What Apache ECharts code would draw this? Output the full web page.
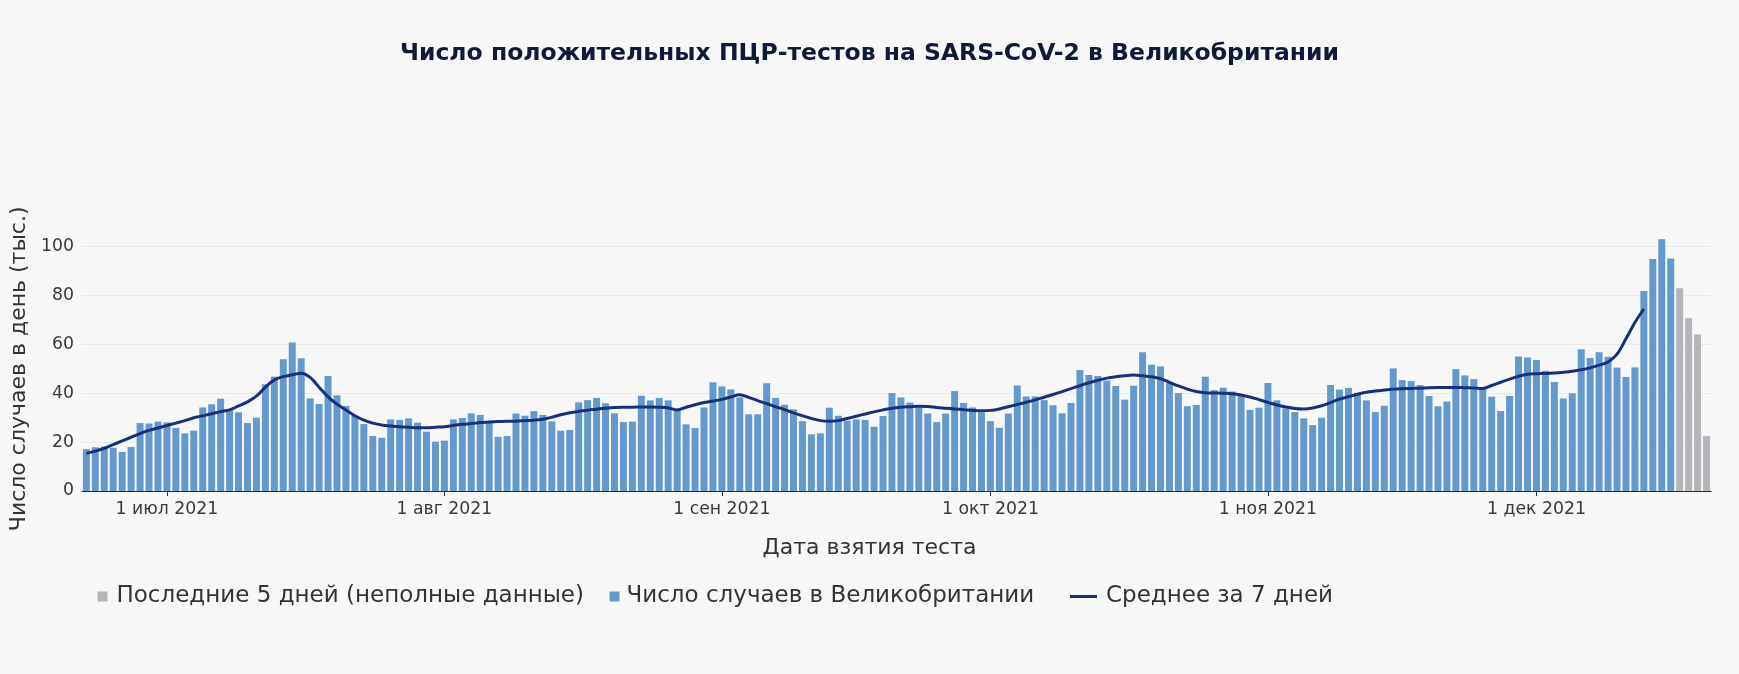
<!DOCTYPE html>
<html>
<head>
<meta charset="utf-8">
<script src="https://cdn.jsdelivr.net/npm/echarts@6/dist/echarts.min.js"></script>
<style>
html,body{margin:0;padding:0;background:#f7f7f7;}
#chart{width:1739px;height:674px;}
</style>
</head>
<body>
<div id="chart"></div>
<script>
// ---- data ----
const startDate = '2021-06-22';
const dayCount = 182;
const monthNames = ['янв','фев','мар','апр','май','июн','июл','авг','сен','окт','ноя','дек'];

// daily positive tests (thousands), 22 Jun – 16 Dec 2021
const casesUK = [
  17.1,17.9,18.1,17.7,16.0,18.0,27.8,27.6,28.4,28.1,25.8,23.6,24.7,34.2,35.5,37.8,33.0,32.2,27.8,30.0,
  43.7,46.8,53.9,60.8,54.3,37.9,35.6,47.1,39.2,34.8,30.7,27.4,22.5,21.8,29.3,29.1,29.7,28.0,24.3,20.2,
  20.6,29.3,29.9,31.8,31.1,28.4,22.2,22.5,31.7,30.8,32.7,31.1,28.5,24.7,25.0,36.3,37.2,38.1,35.9,31.8,
  28.2,28.4,39.0,37.1,38.1,37.1,33.4,27.3,25.8,34.2,44.5,42.8,41.6,38.3,31.4,31.4,44.1,38.1,35.3,33.4,
  28.6,23.2,23.6,34.1,30.8,28.8,29.3,29.1,26.3,30.7,40.1,38.3,36.2,34.3,31.7,28.2,31.7,40.9,36.0,34.2,
  32.2,28.6,25.9,31.7,43.2,38.7,38.7,37.2,35.1,31.8,36.0,49.5,47.5,47.1,45.2,43.0,37.4,43.1,56.8,51.7,
  51.0,44.3,40.1,34.7,35.2,46.8,41.3,42.3,40.7,39.0,33.2,34.1,44.2,37.1,33.8,32.3,29.7,27.0,30.0,43.4,
  41.5,42.2,40.2,37.1,32.3,34.9,50.2,45.4,45.0,43.4,38.9,34.7,36.6,49.9,47.3,45.8,42.0,38.6,32.7,38.9,
  55.1,54.6,53.6,49.2,44.6,37.9,40.0,58.0,54.4,56.8,55.0,50.5,46.7,50.6,81.9,95.0,103.0,95.2
];
// last days, incomplete data (17 – 20 Dec 2021)
const lastDays = [83.0,70.7,64.1,22.5];
// 7-day average, 22 Jun – 13 Dec 2021
const avg7 = [
  15.4,16.3,17.5,19.0,20.5,22.0,23.5,24.8,25.8,26.8,27.8,28.8,30.0,30.8,31.6,32.5,33.2,34.8,36.5,38.8,
  42.5,45.5,46.8,47.6,48.2,46.5,42.5,38.5,35.5,33.2,30.8,29.0,27.8,27.0,26.6,26.3,26.1,25.9,25.9,26.1,
  26.3,26.8,27.3,27.6,28.0,28.2,28.4,28.6,28.6,28.8,29.0,29.4,30.2,31.2,32.0,32.6,33.1,33.5,33.9,34.2,
  34.3,34.3,34.4,34.4,34.3,34.0,33.2,34.3,35.3,36.2,36.8,37.5,38.5,39.4,38.3,37.0,35.8,34.5,33.3,32.0,
  30.8,29.7,28.8,28.5,28.8,29.7,30.6,31.5,32.4,33.2,33.9,34.3,34.5,34.7,34.6,34.2,33.9,33.6,33.3,33.0,
  32.8,33.0,33.6,34.5,35.4,36.3,37.3,38.4,39.5,40.7,41.9,43.1,44.3,45.3,46.2,46.8,47.2,47.5,47.2,46.8,
  46.0,44.5,43.0,41.7,40.7,40.2,40.1,40.0,39.8,39.3,38.5,37.4,36.3,35.2,34.4,33.8,33.6,34.0,34.9,36.2,
  37.6,38.6,39.6,40.4,40.9,41.3,41.7,41.9,42.0,42.1,42.3,42.4,42.4,42.4,42.3,42.2,42.0,43.2,44.5,45.8,
  47.0,47.8,48.0,48.1,48.3,48.6,49.0,49.6,50.4,51.5,52.8,56.0,62.3,69.0,74.5
];

const titleText = 'Число положительных ПЦР-тестов на SARS-CoV-2 в Великобритании';
const xName = 'Дата взятия теста';
const yName = 'Число случаев в день (тыс.)';
const nameLast = 'Последние 5 дней (неполные данные)';
const nameCases = 'Число случаев в Великобритании';
const nameAvg = 'Среднее за 7 дней';

// ---- build ----
const categories = [];
{
  const p = startDate.split('-').map(Number);
  const t0 = Date.UTC(p[0], p[1]-1, p[2]);
  for (let i = 0; i < dayCount; i++) {
    const d = new Date(t0 + i*86400000);
    const mm = String(d.getUTCMonth()+1).padStart(2,'0');
    const dd = String(d.getUTCDate()).padStart(2,'0');
    categories.push(d.getUTCFullYear()+'-'+mm+'-'+dd);
  }
}
const casesData = casesUK.concat(lastDays.map(() => null));
const lastData = casesUK.map(() => null).concat(lastDays);
const avgData = avg7.concat(new Array(dayCount - avg7.length).fill(null));

const FONT = 'DejaVu Sans';
const isFirst = (i, v) => v.slice(8) === '01';

const chart = echarts.init(document.getElementById('chart'), null, {renderer:'canvas'});
chart.setOption({
  backgroundColor: '#f7f7f7',
  animation: false,
  textStyle: {fontFamily: FONT},
  title: [
    {text: titleText, left: 'center', top: 37,
     textStyle: {fontFamily: FONT, fontSize: 23.5, fontWeight: 'bold', color: '#0f1a38'}},
    {text: xName, left: 'center', top: 532,
     textStyle: {fontFamily: FONT, fontSize: 22, fontWeight: 'normal', color: '#333'}}
  ],
  grid: {left: 78, right: 28, top: 246.7, bottom: 183, containLabel: false},
  legend: [
    {data: [nameLast], left: 92.5, top: 580, itemWidth: 10, itemHeight: 10, icon: 'rect',
     textStyle: {fontFamily: FONT, fontSize: 23, color: '#333', padding: [0,0,0,4]}},
    {data: [nameCases], left: 604.5, top: 580, itemWidth: 10, itemHeight: 10, icon: 'rect',
     textStyle: {fontFamily: FONT, fontSize: 23, color: '#333', padding: [0,0,0,2]}},
    {data: [nameAvg], left: 1065, top: 580, itemWidth: 27, itemHeight: 3, icon: 'rect',
     textStyle: {fontFamily: FONT, fontSize: 23, color: '#333', padding: [0,0,0,4]}}
  ],
  xAxis: {
    type: 'category', data: categories, boundaryGap: true,
    axisLine: {show: true, lineStyle: {color: '#1f2d4d', width: 1}},
    axisTick: {show: true, alignWithLabel: true, interval: isFirst, length: 5,
               lineStyle: {color: '#1f2d4d'}},
    axisLabel: {interval: isFirst, margin: 10, color: '#3a3a3a', fontSize: 17.3, fontFamily: FONT,
      formatter: v => {
        const p = v.split('-');
        return Number(p[2]) + ' ' + monthNames[Number(p[1])-1] + ' ' + p[0];
      }},
    splitLine: {show: false}
  },
  yAxis: {
    type: 'value', min: 0, max: 100, interval: 20,
    name: yName, nameLocation: 'middle', nameGap: 50,
    nameTextStyle: {fontFamily: FONT, fontSize: 22, color: '#333'},
    axisLine: {show: false}, axisTick: {show: false},
    axisLabel: {color: '#3a3a3a', fontSize: 17.3, margin: 8, fontFamily: FONT},
    splitLine: {lineStyle: {color: '#e9e9e9', width: 1}}
  },
  series: [
    {name: nameCases, type: 'bar', stack: 'd', data: casesData, barWidth: '78%', clip: false,
     itemStyle: {color: '#6399cd'}},
    {name: nameLast, type: 'bar', stack: 'd', data: lastData, barWidth: '78%', clip: false,
     itemStyle: {color: '#b4b5b8'}},
    {name: nameAvg, type: 'line', data: avgData, smooth: 0.35, showSymbol: false, symbol: 'none',
     connectNulls: false, z: 5,
     lineStyle: {color: '#17307a', width: 3}, itemStyle: {color: '#17307a'}}
  ]
});
</script>
</body>
</html>
